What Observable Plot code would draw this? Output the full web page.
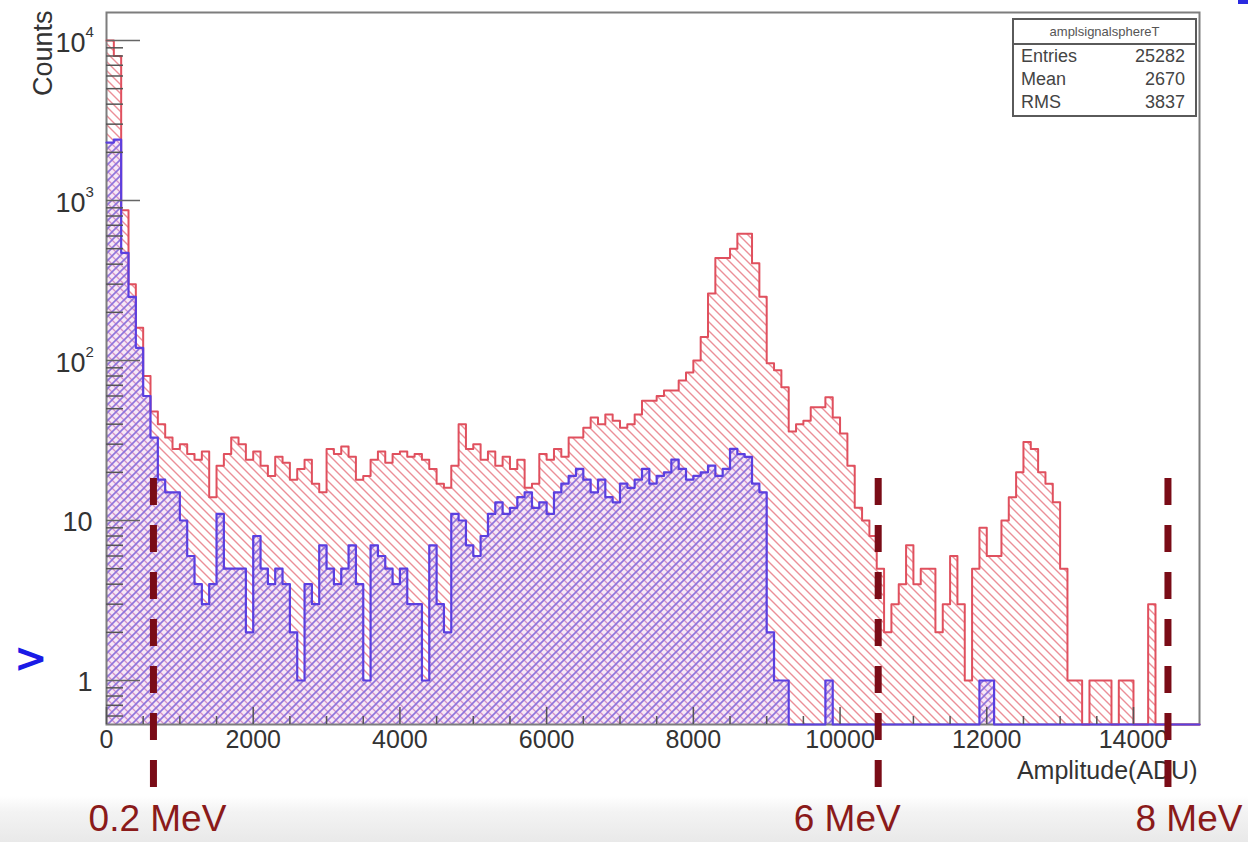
<!DOCTYPE html>
<html>
<head>
<meta charset="utf-8">
<script src="https://cdn.jsdelivr.net/npm/d3@7"></script>
<script src="https://cdn.jsdelivr.net/npm/@observablehq/plot@0.6"></script>
<style>
  html, body { margin: 0; padding: 0; background: #fff; }
  #chart {
    position: relative; width: 1248px; height: 842px; overflow: hidden;
    background: linear-gradient(to bottom, #ffffff 0px, #ffffff 796px, #f3f3f3 812px, #e9e9e9 842px);
    font-family: "Liberation Sans", Arial, sans-serif;
  }
  #stats {
    position: absolute; left: 1012px; top: 18px; width: 181px; height: 95px;
    border: 2px solid #5a5a5a; background: #fff; color: #333; box-sizing: content-box;
  }
  #stats .hdr { height: 23px; border-bottom: 2px solid #5a5a5a; text-align: center; font-size: 13px; line-height: 23px; color: #555; }
  #stats .row { display: flex; justify-content: space-between; padding: 0 10px 0 7px; font-size: 18px; line-height: 23px; height: 23px; color: #444; }
  #mark1 { position: absolute; left: 14px; top: 636px; font: bold 40px "DejaVu Sans", "Liberation Sans", sans-serif; color: #1a1ae6; line-height: 44px; }
  #mark2 { position: absolute; left: 1238px; top: 0px; width: 10px; height: 4px; background: #2a2ae0; }
</style>
</head>
<body>
<div id="chart"></div>
<script>
// ---------------- data ----------------
const binWidth = 100; // ADU per bin
const redCounts = [
  10000, 8000, 870, 300, 160, 80, 48, 40, 33, 28,
  30, 26, 24, 27, 14, 22, 26, 33, 30, 24,
  27, 22, 19, 25, 23, 18, 21, 24, 17, 15,
  28, 26, 29, 25, 18, 19, 24, 27, 23, 26,
  27, 25, 26, 24, 21, 17, 16, 22, 40, 28,
  30, 24, 27, 22, 25, 21, 24, 16, 17, 26,
  24, 28, 25, 33, 33, 38, 44, 40, 46, 42,
  38, 40, 46, 56, 56, 60, 65, 65, 75, 84,
  100, 140, 262, 437, 437, 500, 620, 620, 405, 250,
  96, 87, 68, 36, 40, 42, 51, 51, 59, 44,
  35, 22, 12, 10, 8, 5, 2, 3, 4, 7,
  4, 5, 5, 2, 3, 6, 3, 1, 5, 9,
  6, 6, 10, 14, 20, 31, 28, 20, 17, 13,
  5, 1, 1, 0, 1, 1, 1, 0, 1, 1,
  0, 0, 3, 0, 0, 0, 0, 0, 0
];
const blueCounts = [
  2300, 2400, 470, 250, 120, 60, 33, 18, 15, 15,
  10, 6, 4, 3, 4, 11, 5, 5, 5, 2,
  8, 5, 4, 5, 4, 2, 1, 4, 3, 7,
  5, 4, 5, 7, 4, 1, 7, 6, 5, 4,
  5, 3, 3, 1, 7, 3, 2, 11, 10, 7,
  6, 8, 11, 13, 11, 12, 14, 15, 12, 13,
  11, 15, 17, 19, 21, 18, 15, 18, 14, 13,
  17, 16, 18, 21, 17, 19, 20, 24, 21, 18,
  19, 20, 22, 19, 21, 28, 26, 25, 17, 15,
  2, 1, 1, 0, 0, 0, 0, 0, 1, 0,
  0, 0, 0, 0, 0, 0, 0, 0, 0, 0,
  0, 0, 0, 0, 0, 0, 0, 0, 0, 1,
  1, 0, 0, 0, 0, 0, 0, 0, 0, 0,
  0, 0, 0, 0, 0, 0, 0, 0, 0, 0,
  0, 0, 0, 0, 0, 0, 0, 0, 0
];
const xTickValues = [0, 2000, 4000, 6000, 8000, 10000, 12000, 14000];
const xMinorStep = 500;
const yTickValues = [1, 10, 100, 1000, 10000];
const yTickBase = ["1", "10", "10", "10", "10"];
const yTickExp = ["", "", "2", "3", "4"];
const energyADU = [640, 10520, 14470];
const energyLabels = ["0.2 MeV", "6 MeV", "8 MeV"];
const xTitle = "Amplitude(ADU)";
const yTitle = "Counts";
const statsTitle = "amplsignalsphereT";
const statsNames = ["Entries", "Mean", "RMS"];
const statsValues = ["25282", "2670", "3837"];

// ---------------- layout / style ----------------
const W = 1248, H = 842;
const M = {left: 106, top: 12, right: 49, bottom: 118};
const frameW = W - M.left - M.right;
const frameH = H - M.top - M.bottom;
const yMin = 0.531, yMax = 14960;
const FONT = '"Liberation Sans", Arial, sans-serif';
const TEXT = "#333";
const RED = "#e0505e", BLUE = "#5b3fe0", MAROON = "#7a0c17";
const energyLabelDx = [4, -31, 21];

const nBins = redCounts.length;
function steps(counts) {
  const pts = counts.map((c, i) => ({x: i * binWidth, y: Math.max(c, yMin)}));
  pts.push({x: counts.length * binWidth, y: Math.max(counts[counts.length - 1], yMin)});
  return pts;
}
const redSteps = steps(redCounts);
const blueSteps = steps(blueCounts);

const xMinor = d3.range(0, nBins * binWidth + 1, xMinorStep).filter(v => !xTickValues.includes(v));
const yMinor = [];
for (let k = -1; k <= 4; k++) for (let m = 2; m <= 9; m++) {
  const v = m * Math.pow(10, k);
  if (v > yMin && v < yMax) yMinor.push(v);
}
const yTicks = yTickValues.map((v, i) => ({v, base: yTickBase[i], exp: yTickExp[i]}));
const energy = energyADU.map((adu, i) => ({adu, label: energyLabels[i]}));

const chart = Plot.plot({
  width: W, height: H,
  marginLeft: M.left, marginRight: M.right, marginTop: M.top, marginBottom: M.bottom,
  style: {background: "transparent", fontFamily: FONT, overflow: "visible"},
  x: {domain: [0, nBins * binWidth], axis: null},
  y: {type: "log", domain: [yMin, yMax], axis: null},
  marks: [
    Plot.areaY(redSteps, {x: "x", y1: yMin, y2: "y", curve: "step-after", fill: "url(#hatchRed)"}),
    Plot.areaY(blueSteps, {x: "x", y1: yMin, y2: "y", curve: "step-after", fill: "url(#hatchBlue)"}),
    Plot.frame({stroke: "#7d7d7d", strokeWidth: 2}),
    Plot.lineY(redSteps, {x: "x", y: "y", curve: "step-after", stroke: RED, strokeWidth: 2}),
    Plot.lineY(blueSteps, {x: "x", y: "y", curve: "step-after", stroke: BLUE, strokeWidth: 2.2}),
    // inward ticks
    Plot.ruleX(xMinor, {x: d => d, insetTop: frameH - 8, stroke: "#555", strokeWidth: 1.5}),
    Plot.ruleX(xTickValues, {x: d => d, insetTop: frameH - 17, stroke: "#555", strokeWidth: 1.5}),
    Plot.ruleY(yMinor, {y: d => d, insetRight: frameW - 17, stroke: "#555", strokeWidth: 1.5}),
    Plot.ruleY(yTickValues, {y: d => d, insetRight: frameW - 34, stroke: "#666", strokeWidth: 1.5}),
    // tick labels
    Plot.text(xTickValues, {x: d => d, text: d => String(d), frameAnchor: "bottom", dy: 23, fontSize: 25, fill: TEXT}),
    Plot.text(yTicks.filter(d => !d.exp), {y: "v", text: "base", frameAnchor: "left", textAnchor: "end", dx: -14, dy: 2, fontSize: 27, fill: TEXT}),
    Plot.text(yTicks.filter(d => d.exp), {y: "v", text: "base", frameAnchor: "left", textAnchor: "end", dx: -21, dy: 3, fontSize: 27, fill: TEXT}),
    Plot.text(yTicks.filter(d => d.exp), {y: "v", text: "exp", frameAnchor: "left", textAnchor: "start", dx: -21, dy: -8, fontSize: 15, fill: TEXT}),
    // axis titles
    Plot.text([yTitle], {frameAnchor: "top-left", text: d => d, rotate: -90, textAnchor: "end", dx: -74, dy: -2, fontSize: 27, fill: TEXT}),
    Plot.text([xTitle], {frameAnchor: "bottom-right", text: d => d, textAnchor: "end", dx: -2, dy: 54, fontSize: 25, fill: TEXT}),
    // energy markers
    Plot.ruleX(energy, {x: "adu", insetTop: 466, insetBottom: -82, stroke: MAROON, strokeWidth: 7, strokeDasharray: "27,20"}),
    ...energy.map((d, i) => Plot.text([d], {x: "adu", text: "label", frameAnchor: "bottom", dy: 106, dx: energyLabelDx[i], fontSize: 37, fill: "#8a1a1a"}))
  ]
});

d3.select(chart).insert("defs", ":first-child").html(`
  <pattern id="hatchRed" patternUnits="userSpaceOnUse" width="9" height="9">
    <path d="M-2,-2 L11,11 M-2,7 L2,11 M7,-2 L11,2" stroke="#eb8f98" stroke-width="1.4" fill="none"/>
  </pattern>
  <pattern id="hatchBlue" patternUnits="userSpaceOnUse" width="8" height="8">
    <rect width="8" height="8" fill="#f7e7f6"/>
    <path d="M-2,-2 L10,10 M-2,6 L2,10 M6,-2 L10,2" stroke="#d391c9" stroke-width="1.3" fill="none"/>
    <path d="M-2,10 L10,-2 M-2,2 L2,-2 M6,10 L10,6" stroke="#8e74dc" stroke-width="1.6" fill="none"/>
  </pattern>`);

const root = document.getElementById("chart");
root.appendChild(chart);

// stats box
const stats = document.createElement("div");
stats.id = "stats";
const hdr = document.createElement("div");
hdr.className = "hdr"; hdr.textContent = statsTitle;
stats.appendChild(hdr);
statsNames.forEach((n, i) => {
  const r = document.createElement("div");
  r.className = "row";
  const a = document.createElement("span"); a.textContent = n;
  const b = document.createElement("span"); b.textContent = statsValues[i];
  r.appendChild(a); r.appendChild(b);
  stats.appendChild(r);
});
root.appendChild(stats);

const m1 = document.createElement("div"); m1.id = "mark1"; m1.textContent = ">"; root.appendChild(m1);
const m2 = document.createElement("div"); m2.id = "mark2"; root.appendChild(m2);
</script>
</body>
</html>
